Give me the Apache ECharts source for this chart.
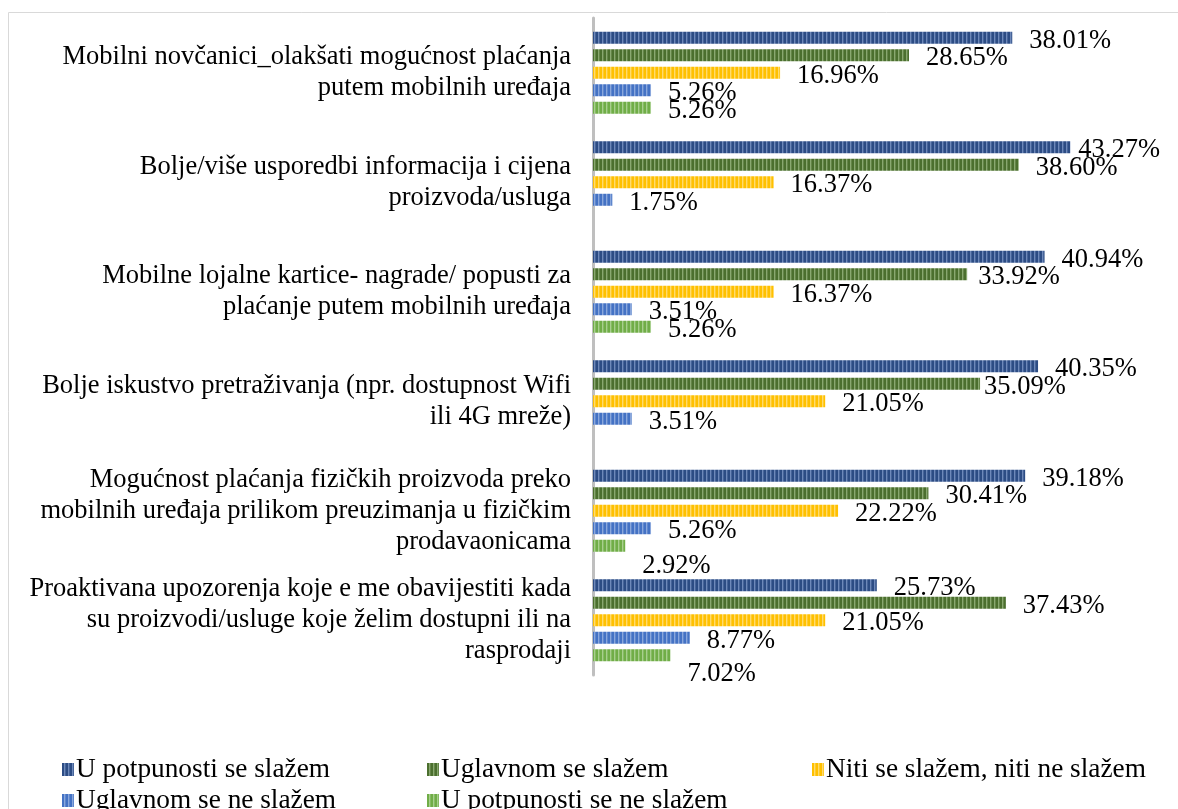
<!DOCTYPE html>
<html>
  <head>
    <title></title>
    <meta charset="UTF-8" />
    <script src="https://cdn.jsdelivr.net/npm/echarts@6/dist/echarts.min.js"></script>
    <style>
      html, body { margin: 0; padding: 0; background: #fff; }
    </style>
  </head>
  <body>
    <div id="main"></div>
    <script>
      const width = 1178;
      const height = 809;
      const main = document.getElementById('main');
      main.style.width = `${width}px`;
      main.style.height = `${height}px`;

      const categories = [
        'Mobilni novčanici_olakšati mogućnost plaćanja\nputem mobilnih uređaja',
        'Bolje/više usporedbi informacija i cijena\nproizvoda/usluga',
        'Mobilne lojalne kartice- nagrade/ popusti za\nplaćanje putem mobilnih uređaja',
        'Bolje iskustvo pretraživanja (npr. dostupnost Wifi\nili 4G mreže)',
        'Mogućnost plaćanja fizičkih proizvoda preko\nmobilnih uređaja prilikom preuzimanja u fizičkim\nprodavaonicama',
        'Proaktivana upozorenja koje e me obavijestiti kada\nsu proizvodi/usluge koje želim dostupni ili na\nrasprodaji',
      ];
      const seriesNames = [
        'U potpunosti se slažem',
        'Uglavnom se slažem',
        'Niti se slažem, niti ne slažem',
        'Uglavnom se ne slažem',
        'U potpunosti se ne slažem',
      ];
      const potpunoSlazem = [38.01, 43.27, 40.94, 40.35, 39.18, 25.73];
      const uglavnomSlazem = [28.65, 38.6, 33.92, 35.09, 30.41, 37.43];
      const nitiNiti = [16.96, 16.37, 16.37, 21.05, 22.22, 21.05];
      const uglavnomNeSlazem = [5.26, 1.75, 3.51, 3.51, 5.26, 8.77];
      const potpunoNeSlazem = [5.26, 0, 5.26, 0, 2.92, 7.02];

      const values = [potpunoSlazem, uglavnomSlazem, nitiNiti, uglavnomNeSlazem, potpunoNeSlazem];
      const colors = [
        ['#2C4C84', '#6E89BA'],
        ['#4B6F2E', '#89A870'],
        ['#FFC000', '#FFDB6E'],
        ['#4472C4', '#8AA7DC'],
        ['#70AD47', '#A8CF8E'],
      ];

      // a few labels were moved by hand in the original, key is "series:category"
      const labelNudge = {
        '0:1': [-9, 0],
        '1:2': [-6, 0],
        '1:3': [-13, 0],
        '4:4': [0, 17],
        '4:5': [0, 16],
      };

      // vertical stripe fill, like the Excel pattern
      function stripes(base, light) {
        const c = document.createElement('canvas');
        c.width = 4;
        c.height = 4;
        const ctx = c.getContext('2d');
        ctx.fillStyle = base;
        ctx.fillRect(0, 0, 4, 4);
        ctx.fillStyle = light;
        ctx.fillRect(2, 0, 1, 4);
        ctx.globalAlpha = 0.4;
        ctx.fillRect(3, 0, 1, 4);
        return { image: c, repeat: 'repeat' };
      }

      const font = '"Liberation Serif", "Times New Roman", serif';
      const fontSize = 26.5;

      const legendPos = [
        [57, 751], [422, 751], [807, 751],
        [57, 782], [422, 782],
      ];

      const myChart = echarts.init(main);
      const option = {
        animation: false,
        textStyle: { fontFamily: font },
        graphic: [
          {
            type: 'rect',
            shape: { x: 8.5, y: 12.5, width: 1200, height: 820 },
            style: { fill: 'none', stroke: '#D9D9D9', lineWidth: 1 },
            silent: true,
          },
        ],
        legend: seriesNames.map((name, i) => ({
          data: [name],
          left: legendPos[i][0],
          top: legendPos[i][1],
          itemWidth: 12,
          itemHeight: 13,
          itemGap: 0,
          icon: 'rect',
          selectedMode: false,
          textStyle: { fontFamily: font, fontSize: 27.3, color: '#000', padding: [0, 0, 0, -3] },
        })),
        grid: {
          left: 593,
          top: 18,
          height: 657,
          width: 551.5,
        },
        xAxis: {
          type: 'value',
          min: 0,
          max: 50,
          show: false,
        },
        yAxis: {
          type: 'category',
          inverse: true,
          data: categories,
          axisLine: { show: true, lineStyle: { color: '#BFBFBF', width: 3 } },
          axisTick: { show: false },
          axisLabel: {
            margin: 22,
            fontFamily: font,
            fontSize,
            lineHeight: 31,
            color: '#000',
            align: 'right',
          },
        },
        series: seriesNames.map((name, i) => ({
          name,
          type: 'bar',
          barWidth: 12,
          barGap: '46%',
          itemStyle: { color: stripes(colors[i][0], colors[i][1]) },
          label: {
            show: true,
            position: 'right',
            distance: 17,
            offset: [0, 3],
            fontFamily: font,
            fontSize,
            color: '#000',
            formatter: (p) => (p.value ? p.value.toFixed(2) + '%' : ''),
          },
          data: values[i].map((v, j) => {
            const n = labelNudge[i + ':' + j];
            return n ? { value: v, label: { offset: [n[0], 3 + n[1]] } } : v;
          }),
        })),
      };
      myChart.setOption(option);
    </script>
  </body>
</html>
